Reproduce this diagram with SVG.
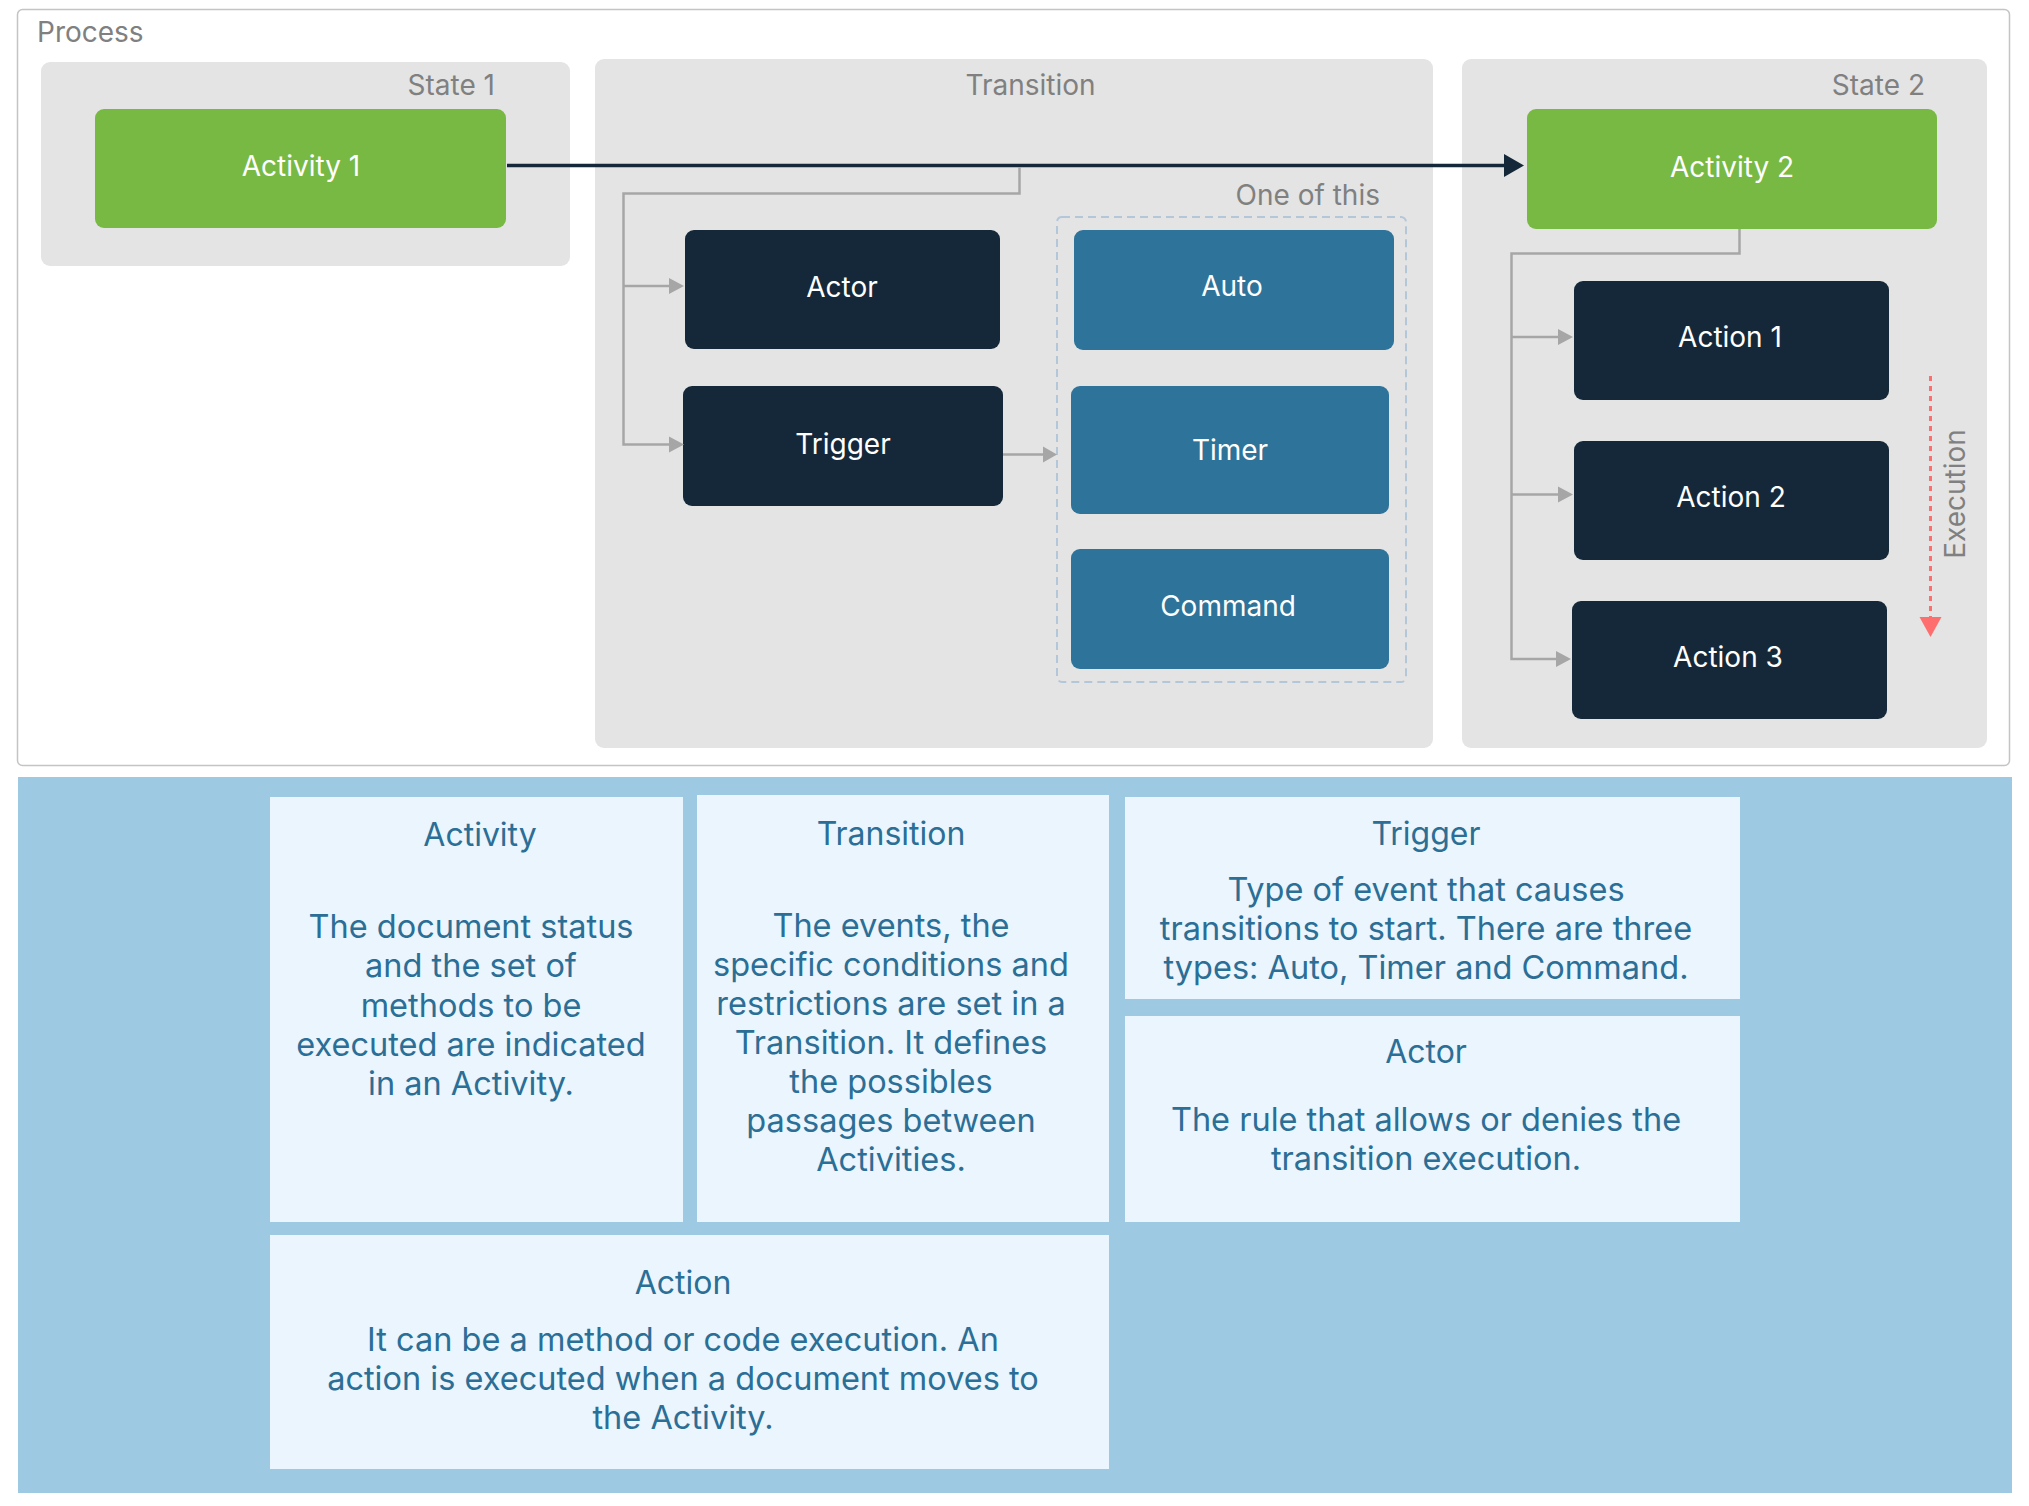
<svg xmlns="http://www.w3.org/2000/svg" width="2029" height="1506" viewBox="0 0 2029 1506">
<defs>
<style>
text{font-family:Inter,"Liberation Sans",Arial,sans-serif}
.lbl{font-size:28px;fill:#808080}
.box{font-size:28px;fill:#ffffff;text-anchor:middle}
.cont{fill:#e4e4e4}
.green{fill:#77b943}
.dark{fill:#14283a}
.steel{fill:#2e7399}
.conn{fill:none;stroke:#a6a6a6;stroke-width:2.5}
.card{fill:#eaf5fd}
.ct{font-size:32px;fill:#2b6e96;text-anchor:middle}
.cb{font-size:32.5px;fill:#2b6e96;text-anchor:middle}
</style>
</defs>
<rect width="2029" height="1506" fill="#ffffff"/>
<g id="process">
<rect x="17.5" y="9.5" width="1992" height="756" rx="5" fill="#ffffff" stroke="#c4c4c4" stroke-width="1.5"/>
<text class="lbl" x="37" y="42">Process</text>
</g>
<g id="state1">
<rect class="cont" x="41" y="62" width="529" height="204" rx="9"/>
<text class="lbl" x="495" y="95" text-anchor="end">State 1</text>
</g>
<g id="transition">
<rect class="cont" x="595" y="59" width="838" height="689" rx="9"/>
<text class="lbl" x="1030.5" y="95" text-anchor="middle">Transition</text>
</g>
<g id="state2">
<rect class="cont" x="1462" y="59" width="525" height="689" rx="9"/>
<text class="lbl" x="1925" y="95" text-anchor="end">State 2</text>
</g>
<g id="activity1">
<rect class="green" x="95" y="109" width="411" height="119" rx="9"/>
<text class="box" x="301" y="176">Activity 1</text>
</g>
<g id="activity2">
<rect class="green" x="1527" y="109" width="410" height="120" rx="9"/>
<text class="box" x="1732" y="177">Activity 2</text>
</g>
<g id="actor">
<rect class="dark" x="685" y="230" width="315" height="119" rx="9"/>
<text class="box" x="842" y="297">Actor</text>
</g>
<g id="trigger">
<rect class="dark" x="683" y="386" width="320" height="120" rx="9"/>
<text class="box" x="843" y="454">Trigger</text>
</g>
<g id="oneofthis">
<rect x="1057" y="217" width="349" height="465" rx="5" fill="none" stroke="#b3c7d8" stroke-width="2" stroke-dasharray="8 5"/>
<text class="lbl" x="1380" y="205" text-anchor="end">One of this</text>
</g>
<g id="auto">
<rect class="steel" x="1074" y="230" width="320" height="120" rx="9"/>
<text class="box" x="1232" y="296">Auto</text>
</g>
<g id="timer">
<rect class="steel" x="1071" y="386" width="318" height="128" rx="9"/>
<text class="box" x="1230" y="460">Timer</text>
</g>
<g id="command">
<rect class="steel" x="1071" y="549" width="318" height="120" rx="9"/>
<text class="box" x="1228" y="616">Command</text>
</g>
<g id="action1">
<rect class="dark" x="1574" y="281" width="315" height="119" rx="9"/>
<text class="box" x="1730" y="347">Action 1</text>
</g>
<g id="action2">
<rect class="dark" x="1574" y="441" width="315" height="119" rx="9"/>
<text class="box" x="1731" y="507">Action 2</text>
</g>
<g id="action3">
<rect class="dark" x="1572" y="601" width="315" height="118" rx="9"/>
<text class="box" x="1728" y="667">Action 3</text>
</g>
<g id="connectors">
<line x1="507" y1="165.5" x2="1506" y2="165.5" stroke="#14283a" stroke-width="3.5"/>
<polygon points="1504,154 1524,165.5 1504,177" fill="#14283a"/>
<path class="conn" d="M1019.5,167 V193.5 H623.5 V444.5 H670 M623.5,286 H670"/>
<polygon points="669,278 684,286 669,294" fill="#a6a6a6"/>
<polygon points="669,436.5 684,444.5 669,452.5" fill="#a6a6a6"/>
<path class="conn" d="M1003,454.5 H1044"/>
<polygon points="1043,446.5 1057,454.5 1043,462.5" fill="#a6a6a6"/>
<path class="conn" d="M1739.5,229 V253.5 H1511.5 V659 H1558 M1511.5,337 H1559 M1511.5,494.5 H1559"/>
<polygon points="1558,329 1573,337 1558,345" fill="#a6a6a6"/>
<polygon points="1558,486.5 1573,494.5 1558,502.5" fill="#a6a6a6"/>
<polygon points="1556,651 1571,659 1556,667" fill="#a6a6a6"/>
<line x1="1930.5" y1="376" x2="1930.5" y2="618" stroke="#ff6e6e" stroke-width="3" stroke-dasharray="5 5"/>
<polygon points="1919.5,617 1941.5,617 1930.5,637" fill="#ff6e6e"/>
<text class="lbl" transform="translate(1965,494) rotate(-90)" text-anchor="middle">Execution</text>
</g>
<g id="legend">
<rect x="18" y="777" width="1994" height="716" fill="#9dc9e3"/>
</g>
<g id="card-activity">
<rect class="card" x="270" y="797" width="413" height="425"/>
<text class="ct" x="480" y="846">Activity</text>
<text class="cb" x="471" y="938">The document status</text>
<text class="cb" x="471" y="977">and the set of</text>
<text class="cb" x="471" y="1017">methods to be</text>
<text class="cb" x="471" y="1056">executed are indicated</text>
<text class="cb" x="471" y="1095">in an Activity.</text>
</g>
<g id="card-transition">
<rect class="card" x="697" y="795" width="412" height="427"/>
<text class="ct" x="891" y="845">Transition</text>
<text class="cb" x="891" y="937">The events, the</text>
<text class="cb" x="891" y="976">specific conditions and</text>
<text class="cb" x="891" y="1015">restrictions are set in a</text>
<text class="cb" x="891" y="1054">Transition. It defines</text>
<text class="cb" x="891" y="1093">the possibles</text>
<text class="cb" x="891" y="1132">passages between</text>
<text class="cb" x="891" y="1171">Activities.</text>
</g>
<g id="card-trigger">
<rect class="card" x="1125" y="797" width="615" height="202"/>
<text class="ct" x="1426" y="845">Trigger</text>
<text class="cb" x="1426" y="901">Type of event that causes</text>
<text class="cb" x="1426" y="940">transitions to start. There are three</text>
<text class="cb" x="1426" y="979">types: Auto, Timer and Command.</text>
</g>
<g id="card-actor">
<rect class="card" x="1125" y="1016" width="615" height="206"/>
<text class="ct" x="1426" y="1063">Actor</text>
<text class="cb" x="1426" y="1131">The rule that allows or denies the</text>
<text class="cb" x="1426" y="1170">transition execution.</text>
</g>
<g id="card-action">
<rect class="card" x="270" y="1235" width="839" height="234"/>
<text class="ct" x="683" y="1294">Action</text>
<text class="cb" x="683" y="1351">It can be a method or code execution. An</text>
<text class="cb" x="683" y="1390">action is executed when a document moves to</text>
<text class="cb" x="683" y="1429">the Activity.</text>
</g>
</svg>
